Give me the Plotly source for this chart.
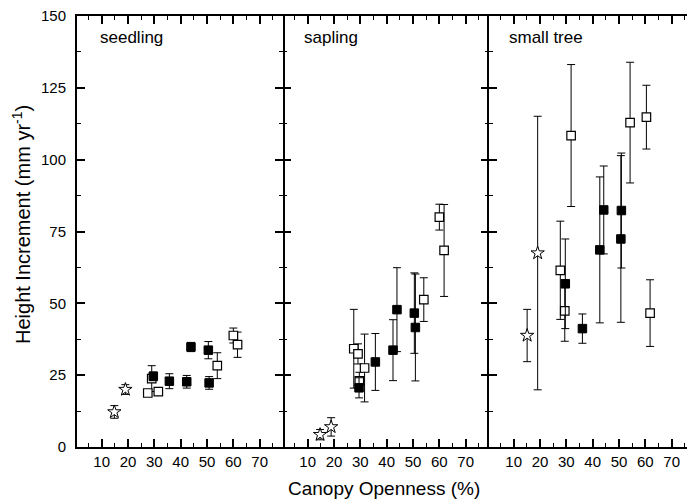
import plotly.graph_objects as go

# ---------------- data ----------------
panels = ["seedling", "sapling", "small tree"]

seed_star_x = [14.8, 19.0]
seed_star_y = [12.2, 20.0]
seed_star_e = [2.2, 1.7]
seed_open_x = [27.5, 29.0, 31.5, 53.9, 60.0, 61.6]
seed_open_y = [18.8, 23.8, 19.3, 28.3, 38.8, 35.6]
seed_open_e = [0.8, 4.5, 1.0, 4.5, 2.6, 4.4]
seed_fill_x = [29.6, 35.7, 42.3, 43.9, 50.5, 50.8]
seed_fill_y = [24.6, 22.9, 22.7, 34.8, 33.7, 22.3]
seed_fill_e = [1.5, 2.6, 2.2, 1.6, 3.0, 2.2]

sap_star_x = [14.7, 18.9]
sap_star_y = [4.3, 7.0]
sap_star_e = [1.8, 3.2]
sap_open_x = [27.5, 29.1, 29.6, 31.6, 54.1, 60.0, 61.8]
sap_open_y = [34.2, 32.4, 23.0, 27.5, 51.3, 80.0, 68.4]
sap_open_e = [13.7, 3.5, 3.0, 11.8, 7.6, 4.5, 16.0]
sap_fill_x = [29.5, 35.7, 42.4, 43.9, 50.5, 50.9]
sap_fill_y = [20.6, 29.6, 33.7, 47.8, 46.6, 41.6]
sap_fill_e = [3.5, 9.9, 10.6, 14.6, 14.0, 18.6]

tree_star_x = [15.1, 19.1]
tree_star_y = [38.8, 67.5]
tree_star_e = [9.1, 47.6]
tree_open_x = [27.7, 29.4, 31.8, 54.2, 60.4, 61.8]
tree_open_y = [61.5, 47.4, 108.4, 112.9, 114.8, 46.6]
tree_open_e = [17.1, 10.6, 24.7, 21.0, 11.1, 11.6]
tree_fill_x = [29.6, 36.1, 42.7, 44.2, 50.9, 50.7]
tree_fill_y = [56.8, 41.2, 68.6, 82.5, 82.3, 72.4]
tree_fill_e = [15.6, 5.1, 25.4, 15.3, 20.0, 29.0]

x_ticks = [10, 20, 30, 40, 50, 60, 70]
x_minor = [5, 15, 25, 35, 45, 55, 65, 75]
y_ticks = [0, 25, 50, 75, 100, 125, 150]
y_minor = [12.5, 37.5, 62.5, 87.5, 112.5, 137.5]

# ---------------- layout geometry ----------------
W, H = 687, 501
ML, MR, MT, MB = 77, 0, 16, 54
PW = W - ML - MR
PH = H - MT - MB
px_per_unit = 2.633
x0 = 0.62
panel_px = [(77, 283), (283, 489), (489, 687)]

FONT = "Liberation Sans, Arial, sans-serif"

fig = go.Figure()

groups = [
    (seed_star_x, seed_star_y, seed_star_e, seed_open_x, seed_open_y, seed_open_e,
     seed_fill_x, seed_fill_y, seed_fill_e),
    (sap_star_x, sap_star_y, sap_star_e, sap_open_x, sap_open_y, sap_open_e,
     sap_fill_x, sap_fill_y, sap_fill_e),
    (tree_star_x, tree_star_y, tree_star_e, tree_open_x, tree_open_y, tree_open_e,
     tree_fill_x, tree_fill_y, tree_fill_e),
]


def eb(arr):
    return dict(type="data", array=arr, visible=True, color="black",
                thickness=1, width=4)


for i, g in enumerate(groups):
    sx, sy, se, ox, oy, oe, fx, fy, fe = g
    xa = "x" if i == 0 else f"x{i+1}"
    ya = "y" if i == 0 else f"y{i+1}"
    fig.add_trace(go.Scatter(x=ox, y=oy, mode="markers", xaxis=xa, yaxis=ya,
                             error_y=eb(oe),
                             marker=dict(symbol="square", size=8.5, color="white",
                                         line=dict(color="black", width=1.2))))
    fig.add_trace(go.Scatter(x=fx, y=fy, mode="markers", xaxis=xa, yaxis=ya,
                             error_y=eb(fe),
                             marker=dict(symbol="square", size=8.5, color="black",
                                         line=dict(color="black", width=1))))
    fig.add_trace(go.Scatter(x=sx, y=sy, mode="markers", xaxis=xa, yaxis=ya,
                             error_y=eb(se),
                             marker=dict(symbol="star", size=10, color="white",
                                         line=dict(color="black", width=1))))

layout = dict(
    width=W, height=H,
    margin=dict(l=ML, r=MR, t=MT, b=MB, pad=0),
    paper_bgcolor="white", plot_bgcolor="white",
    showlegend=False,
    font=dict(family=FONT, size=15, color="black"),
)

y_showline = [True, False, True]
y_mirror = ["ticks", "ticks", False]

for i, (a, b) in enumerate(panel_px):
    d0 = (a - ML) / PW
    d1 = (b - ML) / PW
    width_px = b - a
    xr = [x0, x0 + width_px / px_per_unit]
    key = "xaxis" if i == 0 else f"xaxis{i+1}"
    layout[key] = dict(
        domain=[d0, min(d1, 1.0)], range=xr, anchor="y" if i == 0 else f"y{i+1}",
        tickvals=x_ticks, ticktext=[str(v) for v in x_ticks],
        ticks="inside", ticklen=8, tickwidth=1.5, tickcolor="black",
        showline=True, linecolor="black", linewidth=2, mirror="ticks",
        showgrid=False, zeroline=False,
        minor=dict(tickvals=x_minor, ticks="inside", ticklen=4, tickwidth=1.2,
                   tickcolor="black", showgrid=False),
        tickfont=dict(size=15, family=FONT),
        fixedrange=True,
    )
    ykey = "yaxis" if i == 0 else f"yaxis{i+1}"
    layout[ykey] = dict(
        domain=[0, 1], range=[0, 150], anchor="x" if i == 0 else f"x{i+1}",
        tickvals=y_ticks, ticktext=[str(v) for v in y_ticks],
        showticklabels=(i == 0),
        ticks="inside", ticklen=8, tickwidth=1.5, tickcolor="black",
        showline=y_showline[i], linecolor="black", linewidth=2,
        mirror=y_mirror[i],
        showgrid=False, zeroline=False,
        minor=dict(tickvals=y_minor, ticks="inside", ticklen=4, tickwidth=1.2,
                   tickcolor="black", showgrid=False),
        tickfont=dict(size=15, family=FONT),
        ticklabelstandoff=6,
        fixedrange=True,
    )

fig.update_layout(**layout)


def px_to_paper_x(px):
    return (px - ML) / PW


def px_to_paper_y(py):
    return (H - MB - py) / PH


label_pos = [(98, 38), (302, 38), (507, 38)]
for name, (lx, ly) in zip(panels, label_pos):
    fig.add_annotation(text=name, xref="paper", yref="paper",
                       x=px_to_paper_x(lx), y=px_to_paper_y(ly),
                       xanchor="left", yanchor="middle", showarrow=False,
                       font=dict(size=17, family=FONT, color="black"))

fig.add_annotation(text="Canopy Openness (%)", xref="paper", yref="paper",
                   x=px_to_paper_x(384), y=px_to_paper_y(488),
                   xanchor="center", yanchor="middle", showarrow=False,
                   font=dict(size=19, family=FONT, color="black"))

fig.add_annotation(text="Height Increment (mm yr<sup>-1</sup>)", xref="paper", yref="paper",
                   x=px_to_paper_x(21), y=px_to_paper_y(225), textangle=-90,
                   xanchor="center", yanchor="middle", showarrow=False,
                   font=dict(size=20, family=FONT, color="black"))

fig.write_html("out.html")
